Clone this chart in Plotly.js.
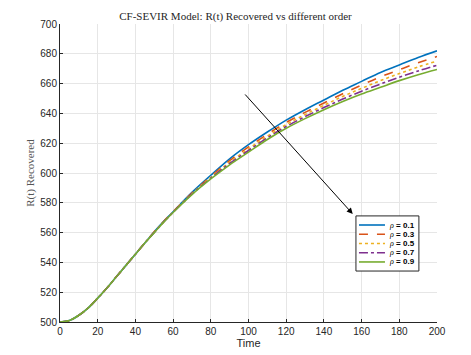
<!DOCTYPE html>
<html>
<head>
<meta charset="utf-8">
<script src="https://cdn.plot.ly/plotly-3.0.1.min.js"></script>
<style>
  html, body { margin: 0; padding: 0; background: #fff; }
  #plotArea { width: 471px; height: 355px; }
</style>
</head>
<body>
<div id="plotArea"></div>
<script>
// time points
var t = [0, 5, 10, 15, 20, 25, 30, 35, 40, 45, 50, 55, 60, 70, 80, 90, 100, 110, 120, 130, 140, 150, 160, 170, 180, 190, 200];

// R(t) for each order rho
var r01 = [500, 501, 504.5, 509.5, 516, 523, 530.5, 538, 545.5, 553, 560.5, 567.5, 574, 587, 598.5, 609.5, 619, 627.5, 635.5, 642.5, 649, 655.5, 661.5, 667.5, 672.5, 677.5, 682];
var r03 = [500, 501, 504.5, 509.5, 516, 523, 530.5, 538, 545.5, 553, 560.5, 567.5, 574, 586.5, 597.7, 608.3, 617.5, 626, 633.9, 640.7, 647, 653.2, 659, 664.5, 669.3, 674, 678.2];
var r05 = [500, 501, 504.5, 509.5, 516, 523, 530.5, 538, 545.5, 553, 560.3, 567.2, 573.8, 586.2, 597.1, 607.3, 616.2, 624.7, 632.5, 639.2, 645.4, 651.4, 656.8, 662, 666.7, 671.2, 675.1];
var r07 = [500, 501, 504.5, 509.5, 516, 523, 530.5, 538, 545.5, 553, 560.1, 567.1, 573.6, 585.8, 596.5, 606.4, 615.1, 623.6, 631.2, 637.8, 643.9, 649.6, 654.9, 659.7, 664.3, 668.5, 672.3];
var r09 = [500, 501, 504.5, 509.5, 516, 523, 530.5, 538, 545.5, 553, 560, 567, 573.5, 585.5, 596, 605.5, 614, 622.5, 630, 636.5, 642.5, 648, 653, 657.5, 662, 666, 669.5];

var orders = ['0.1', '0.3', '0.5', '0.7', '0.9'];
var series = [r01, r03, r05, r07, r09];
var colors = ['#0072BD', '#D95319', '#EDB120', '#7E2F8E', '#77AC30'];
var dashes = ['solid', 'dash', 'dot', 'dashdot', 'solid'];

var traces = [];
for (var i = 0; i < series.length; i++) {
    traces.push({
        x: t,
        y: series[i],
        type: 'scatter',
        mode: 'lines',
        name: 'ρ = ' + orders[i],
        line: {color: colors[i], width: 1.6, dash: dashes[i], shape: 'spline'}
    });
}

// compact MATLAB-style legend box (plotly's own legend rows are too tall here)
var shapes = [{
    type: 'rect', xref: 'paper', yref: 'paper',
    x0: 0.785, x1: 0.952, y0: 0.171, y1: 0.356,
    line: {color: '#262626', width: 1}, fillcolor: '#fff', layer: 'above'
}];
var annotations = [{
    x: 155.3, y: 572.5, ax: 97.5, ay: 653.7,
    xref: 'x', yref: 'y', axref: 'x', ayref: 'y',
    text: '', showarrow: true,
    arrowhead: 2, arrowsize: 1.2, arrowwidth: 1, arrowcolor: '#000'
}];
for (var k = 0; k < orders.length; k++) {
    var yy = 0.3255 - k * 0.031;
    shapes.push({
        type: 'line', xref: 'paper', yref: 'paper',
        x0: 0.793, x1: 0.862, y0: yy, y1: yy,
        line: {color: colors[k], width: 1.6, dash: dashes[k]}, layer: 'above'
    });
    annotations.push({
        xref: 'paper', yref: 'paper', x: 0.868, y: yy,
        xanchor: 'left', yanchor: 'middle', showarrow: false,
        text: '<span style="font-family:Liberation Serif"><i>ρ</i></span> <b>= ' + orders[k] + '</b>',
        font: {size: 8, color: '#000'}
    });
}

var layout = {
    width: 471,
    height: 355,
    margin: {l: 60, r: 34, t: 24, b: 33},
    paper_bgcolor: '#fff',
    plot_bgcolor: '#fff',
    font: {family: 'Liberation Sans, Arial, sans-serif', size: 10, color: '#262626'},
    title: {
        text: 'CF-SEVIR Model: R(t) Recovered vs different order',
        font: {family: 'Liberation Serif, serif', size: 11, color: '#262626'},
        x: 0.5, xanchor: 'center', y: 0.955, yanchor: 'middle'
    },
    xaxis: {
        range: [0, 200],
        tickvals: [0, 20, 40, 60, 80, 100, 120, 140, 160, 180, 200],
        ticks: 'inside', ticklen: 3, tickcolor: '#262626',
        showline: true, linecolor: '#262626', linewidth: 1,
        showgrid: true, gridcolor: '#e6e6e6', zeroline: false,
        tickfont: {size: 10},
        title: {text: 'Time', font: {size: 11}, standoff: 2}
    },
    yaxis: {
        range: [500, 700],
        tickvals: [500, 520, 540, 560, 580, 600, 620, 640, 660, 680, 700],
        ticks: 'inside', ticklen: 3, tickcolor: '#262626',
        showline: true, linecolor: '#262626', linewidth: 1,
        showgrid: true, gridcolor: '#e6e6e6', zeroline: false,
        tickfont: {size: 10},
        title: {text: 'R(t) Recovered', font: {family: 'Liberation Serif, serif', size: 11, color: '#555'}, standoff: 3}
    },
    showlegend: false,
    shapes: shapes,
    annotations: annotations
};

Plotly.newPlot('plotArea', traces, layout, {displayModeBar: false, staticPlot: true});
</script>
</body>
</html>
